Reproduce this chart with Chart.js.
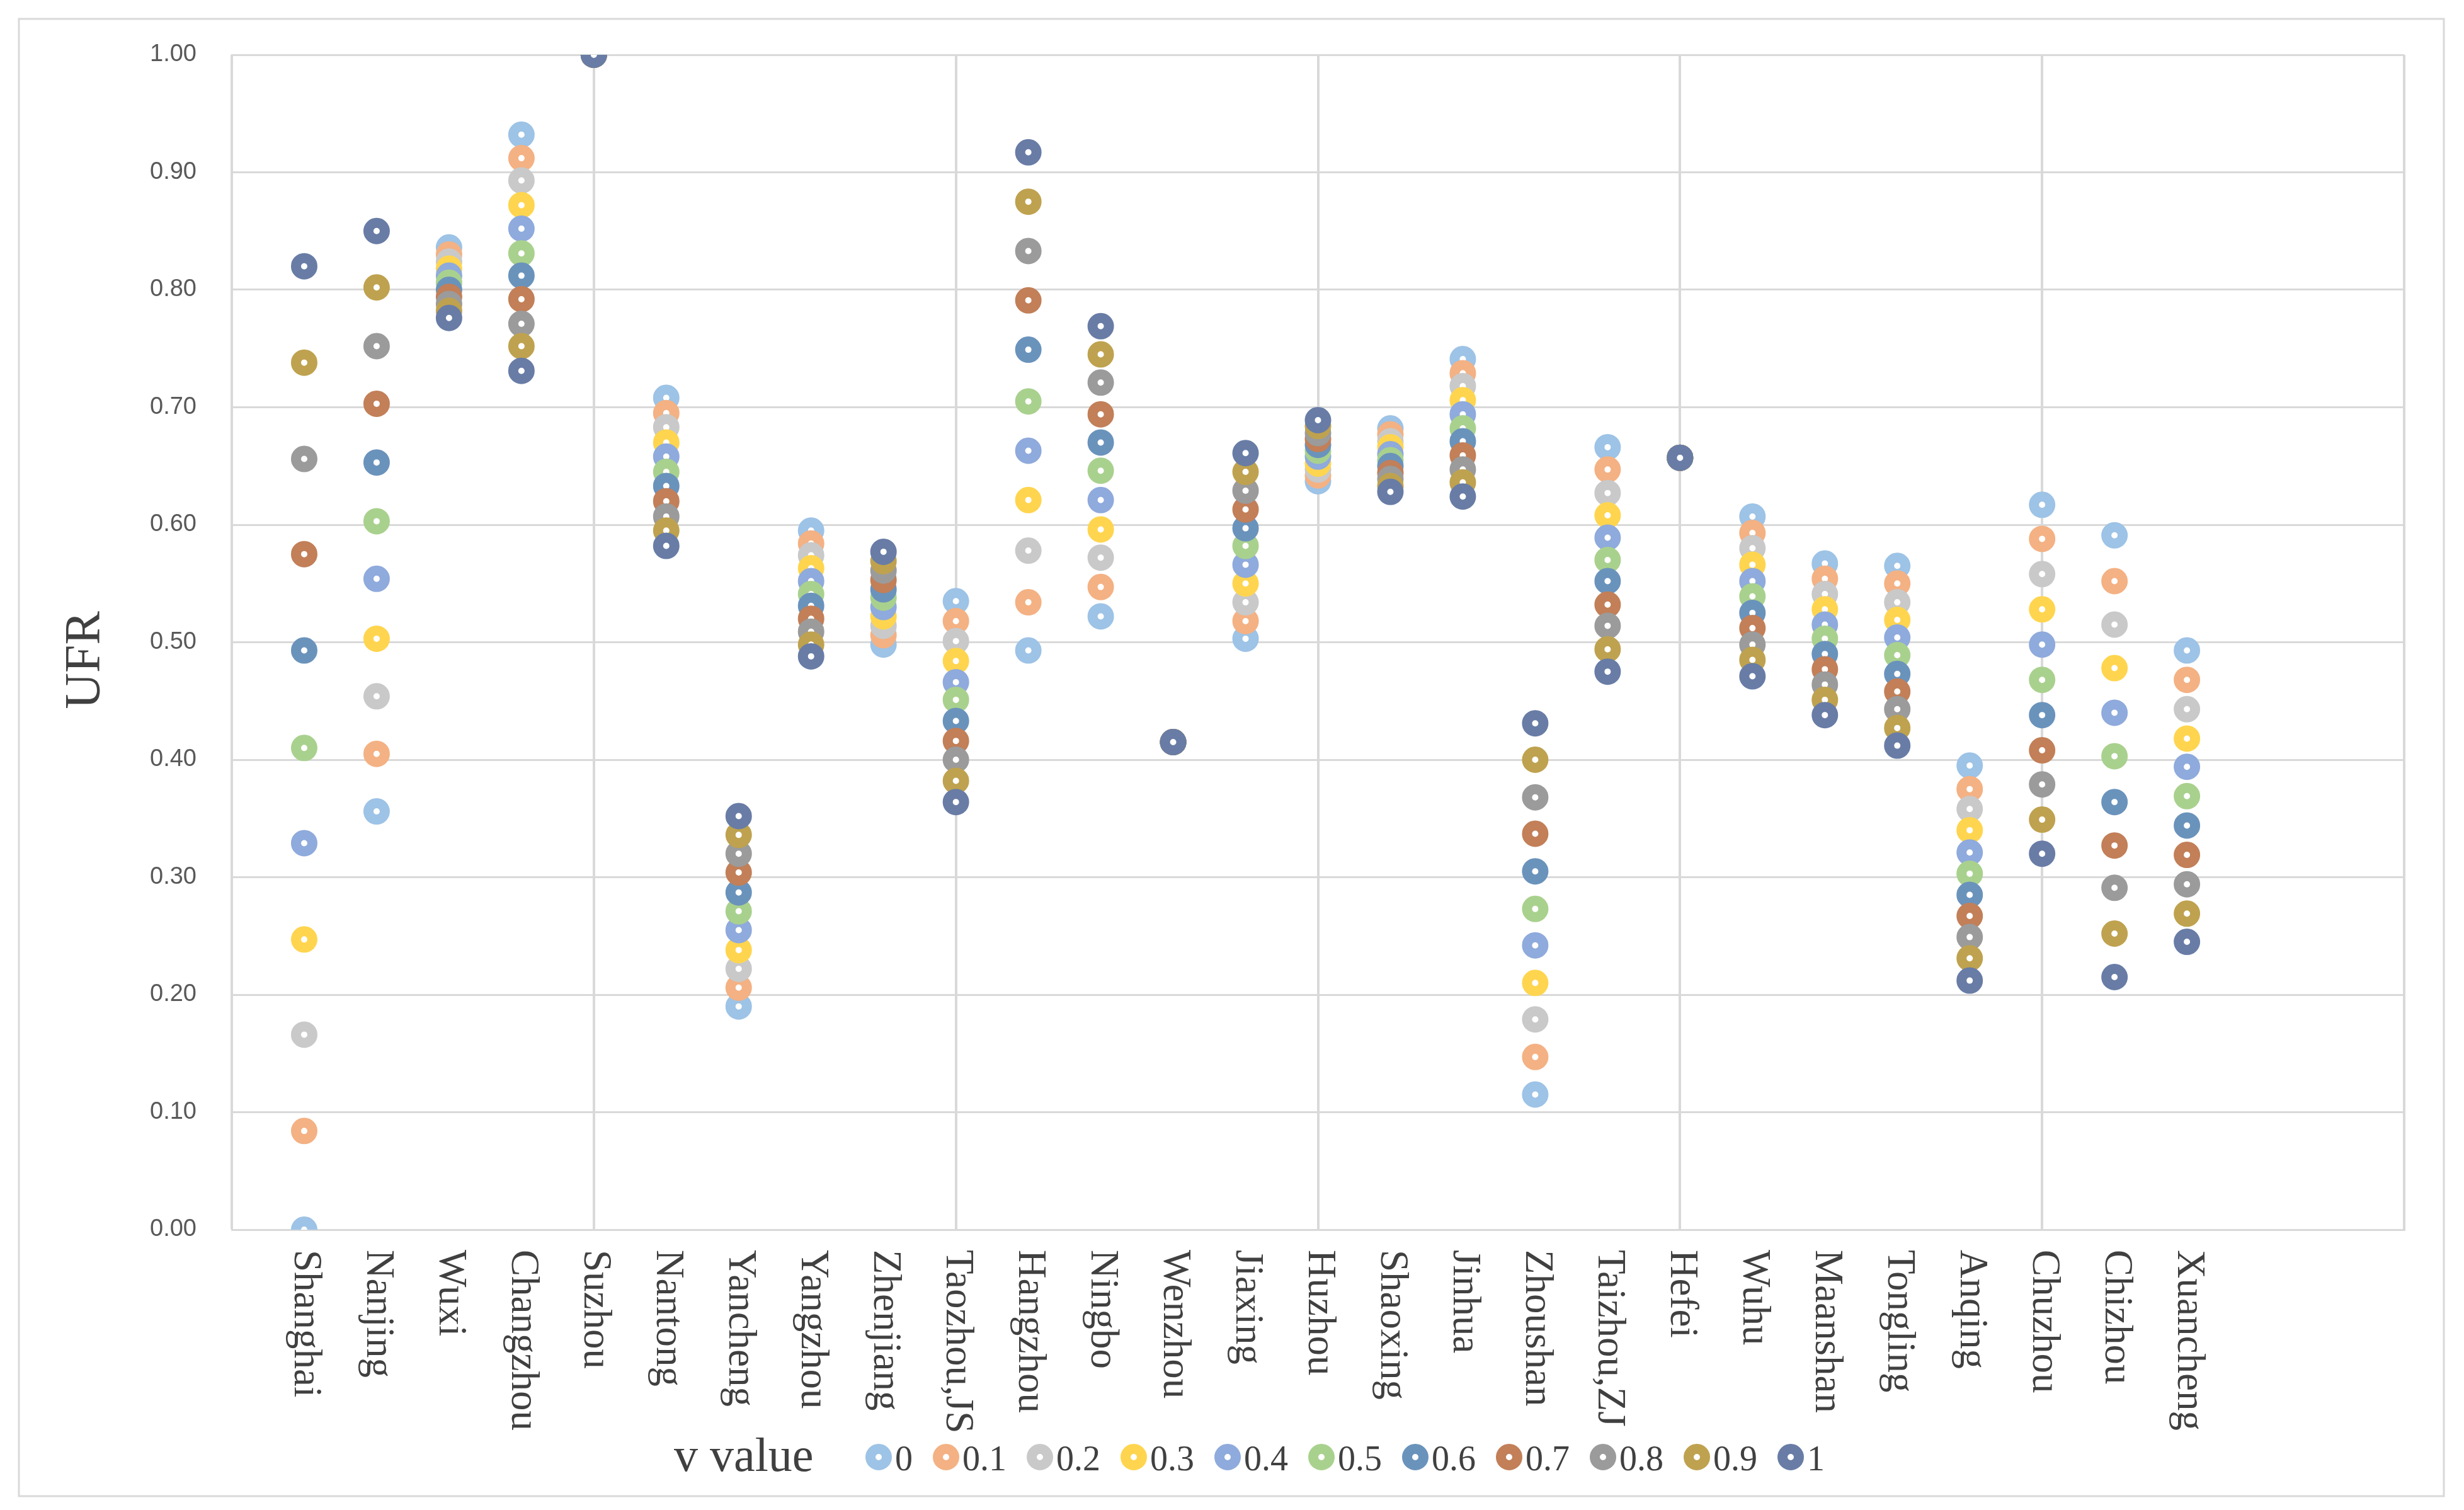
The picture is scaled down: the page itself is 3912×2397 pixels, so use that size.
<!DOCTYPE html>
<html>
<head>
<meta charset="utf-8">
<title>UFR by city and v value</title>
<script src="https://cdn.jsdelivr.net/npm/chart.js@4.4.1/dist/chart.umd.min.js"></script>
<style>
html, body { margin: 0; padding: 0; background: #fff; }
#wrap { width: 3912px; height: 2397px; }
</style>
</head>
<body>
<div id="wrap"><canvas id="ufr-chart"></canvas></div>
<script>
const cities = ['Shanghai', 'Nanjing', 'Wuxi', 'Changzhou', 'Suzhou', 'Nantong', 'Yancheng', 'Yangzhou', 'Zhenjiang',
  'Taozhou,JS', 'Hangzhou', 'Ningbo', 'Wenzhou', 'Jiaxing', 'Huzhou', 'Shaoxing', 'Jinhua', 'Zhoushan',
  'Taizhou,ZJ', 'Hefei', 'Wuhu', 'Maanshan', 'Tongling', 'Anqing', 'Chuzhou', 'Chizhou', 'Xuancheng'];
const vLabels = ['0', '0.1', '0.2', '0.3', '0.4', '0.5', '0.6', '0.7', '0.8', '0.9', '1'];
const yTicks = [0, 0.1, 0.2, 0.3, 0.4, 0.5, 0.6, 0.7, 0.8, 0.9, 1];

// UFR per city, one array per v value
const ufrV0 = [0, 0.356, 0.836, 0.932, 1, 0.708, 0.19, 0.595, 0.498, 0.535, 0.493, 0.522, 0.415, 0.503, 0.637, 0.682, 0.741, 0.115, 0.666, 0.657, 0.607, 0.567, 0.565, 0.395, 0.617, 0.591, 0.493];
const ufrV01 = [0.084, 0.405, 0.830, 0.912, 1, 0.695, 0.206, 0.584, 0.506, 0.518, 0.534, 0.547, 0.415, 0.518, 0.642, 0.677, 0.729, 0.147, 0.647, 0.657, 0.593, 0.554, 0.550, 0.375, 0.588, 0.552, 0.468];
const ufrV02 = [0.166, 0.454, 0.824, 0.893, 1, 0.683, 0.222, 0.574, 0.514, 0.501, 0.578, 0.572, 0.415, 0.534, 0.647, 0.671, 0.718, 0.179, 0.627, 0.657, 0.580, 0.541, 0.534, 0.358, 0.558, 0.515, 0.443];
const ufrV03 = [0.247, 0.503, 0.818, 0.872, 1, 0.670, 0.238, 0.563, 0.522, 0.484, 0.621, 0.596, 0.415, 0.550, 0.652, 0.666, 0.706, 0.210, 0.608, 0.657, 0.566, 0.528, 0.519, 0.340, 0.528, 0.478, 0.418];
const ufrV04 = [0.329, 0.554, 0.812, 0.852, 1, 0.658, 0.255, 0.552, 0.530, 0.466, 0.663, 0.621, 0.415, 0.566, 0.658, 0.660, 0.694, 0.242, 0.589, 0.657, 0.552, 0.515, 0.504, 0.321, 0.498, 0.440, 0.394];
const ufrV05 = [0.410, 0.603, 0.806, 0.831, 1, 0.645, 0.271, 0.541, 0.538, 0.451, 0.705, 0.646, 0.415, 0.582, 0.663, 0.655, 0.682, 0.273, 0.570, 0.657, 0.539, 0.503, 0.489, 0.303, 0.468, 0.403, 0.369];
const ufrV06 = [0.493, 0.653, 0.800, 0.812, 1, 0.633, 0.287, 0.531, 0.545, 0.433, 0.749, 0.670, 0.415, 0.597, 0.668, 0.650, 0.671, 0.305, 0.552, 0.657, 0.525, 0.490, 0.473, 0.285, 0.438, 0.364, 0.344];
const ufrV07 = [0.575, 0.703, 0.794, 0.792, 1, 0.620, 0.304, 0.520, 0.553, 0.416, 0.791, 0.694, 0.415, 0.613, 0.673, 0.644, 0.659, 0.337, 0.532, 0.657, 0.512, 0.477, 0.458, 0.267, 0.408, 0.327, 0.319];
const ufrV08 = [0.656, 0.752, 0.788, 0.771, 1, 0.607, 0.320, 0.509, 0.561, 0.400, 0.833, 0.721, 0.415, 0.629, 0.678, 0.639, 0.647, 0.368, 0.514, 0.657, 0.498, 0.464, 0.443, 0.249, 0.379, 0.291, 0.294];
const ufrV09 = [0.738, 0.802, 0.782, 0.752, 1, 0.595, 0.336, 0.498, 0.569, 0.382, 0.875, 0.745, 0.415, 0.645, 0.684, 0.633, 0.636, 0.400, 0.494, 0.657, 0.485, 0.451, 0.427, 0.231, 0.349, 0.252, 0.269];
const ufrV1 = [0.820, 0.850, 0.776, 0.731, 1, 0.582, 0.352, 0.488, 0.577, 0.364, 0.917, 0.769, 0.415, 0.661, 0.689, 0.628, 0.624, 0.431, 0.475, 0.657, 0.471, 0.438, 0.412, 0.212, 0.320, 0.215, 0.245];

const seriesValues = [ufrV0, ufrV01, ufrV02, ufrV03, ufrV04, ufrV05, ufrV06, ufrV07, ufrV08, ufrV09, ufrV1];
const colors = ['#9dc3e6', '#f4b183', '#c9c9c9', '#ffd54f', '#8faadc', '#a9d18e', '#6a93bc', '#c27f58', '#9b9b9b', '#bfa24f', '#687ca6'];

const TEXT = '#404040';
const GRID = '#d9d9d9';

function drawRing(ctx, x, y, color) {
  ctx.beginPath();
  ctx.arc(x, y, 13, 0, Math.PI * 2);
  ctx.fillStyle = '#fff';
  ctx.fill();
  ctx.lineWidth = 16;
  ctx.strokeStyle = color;
  ctx.stroke();
}

const decorations = {
  id: 'decorations',
  afterDraw(chart) {
    const { ctx, chartArea } = chart;
    const x = chart.scales.x;
    ctx.save();

    ctx.strokeStyle = GRID;
    ctx.lineWidth = 3;
    ctx.strokeRect(30, 30, 3850, 2345);

    // city names, rotated clockwise under each column
    ctx.fillStyle = TEXT;
    ctx.font = '63px "Liberation Serif"';
    ctx.textAlign = 'left';
    ctx.textBaseline = 'middle';
    cities.forEach((name, i) => {
      ctx.save();
      ctx.translate(x.getPixelForValue(i + 1) + 2, chartArea.bottom + 32);
      ctx.rotate(Math.PI / 2);
      ctx.fillText(name, 0, 0);
      ctx.restore();
    });

    // y title
    ctx.save();
    ctx.translate(137, 1048);
    ctx.rotate(-Math.PI / 2);
    ctx.textAlign = 'center';
    ctx.font = '80px "Liberation Serif"';
    ctx.fillText('UFR', 0, 0);
    ctx.restore();

    // legend
    ctx.textBaseline = 'alphabetic';
    ctx.textAlign = 'left';
    ctx.fillStyle = TEXT;
    ctx.font = '76px "Liberation Serif"';
    ctx.fillText('v value', 1070, 2335);
    ctx.font = '56px "Liberation Serif"';
    let mx = 1395;
    vLabels.forEach((lab, i) => {
      drawRing(ctx, mx, 2313, colors[i]);
      ctx.fillStyle = TEXT;
      ctx.fillText(lab, mx + 26, 2334);
      mx += 28 + ctx.measureText(lab).width + 51;
    });

    ctx.restore();
  },
};

new Chart(document.getElementById('ufr-chart'), {
  type: 'scatter',
  data: {
    datasets: seriesValues.map((vals, i) => ({
      label: vLabels[i],
      data: vals.map((y, c) => ({ x: c + 1, y })),
      order: 10 - i,
      pointStyle: 'circle',
      pointRadius: 13,
      pointHoverRadius: 13,
      pointBorderWidth: 16,
      borderColor: colors[i],
      backgroundColor: '#fff',
      showLine: false,
    })),
  },
  options: {
    responsive: true,
    maintainAspectRatio: false,
    devicePixelRatio: 1,
    animation: false,
    events: [],
    layout: { padding: { left: 0, right: 95, top: 87, bottom: 0 } },
    plugins: {
      legend: { display: false },
      tooltip: { enabled: false },
    },
    scales: {
      x: {
        type: 'linear',
        min: 0,
        max: 30,
        ticks: { stepSize: 5, display: false },
        grid: { color: GRID, lineWidth: 4, drawTicks: false },
        border: { color: GRID, width: 3 },
        afterFit: s => { s.height = 445; },
      },
      y: {
        min: 0,
        max: 1,
        afterBuildTicks: s => { s.ticks = yTicks.map(v => ({ value: v })); },
        ticks: {
          padding: 56,
          color: '#595959',
          font: { family: '"Liberation Sans"', size: 38 },
          callback: v => v.toFixed(2),
        },
        grid: { color: GRID, lineWidth: 3, drawTicks: false },
        border: { color: GRID, width: 3 },
        afterFit: s => { s.width = 368; },
      },
    },
  },
  plugins: [decorations],
});
</script>
</body>
</html>
